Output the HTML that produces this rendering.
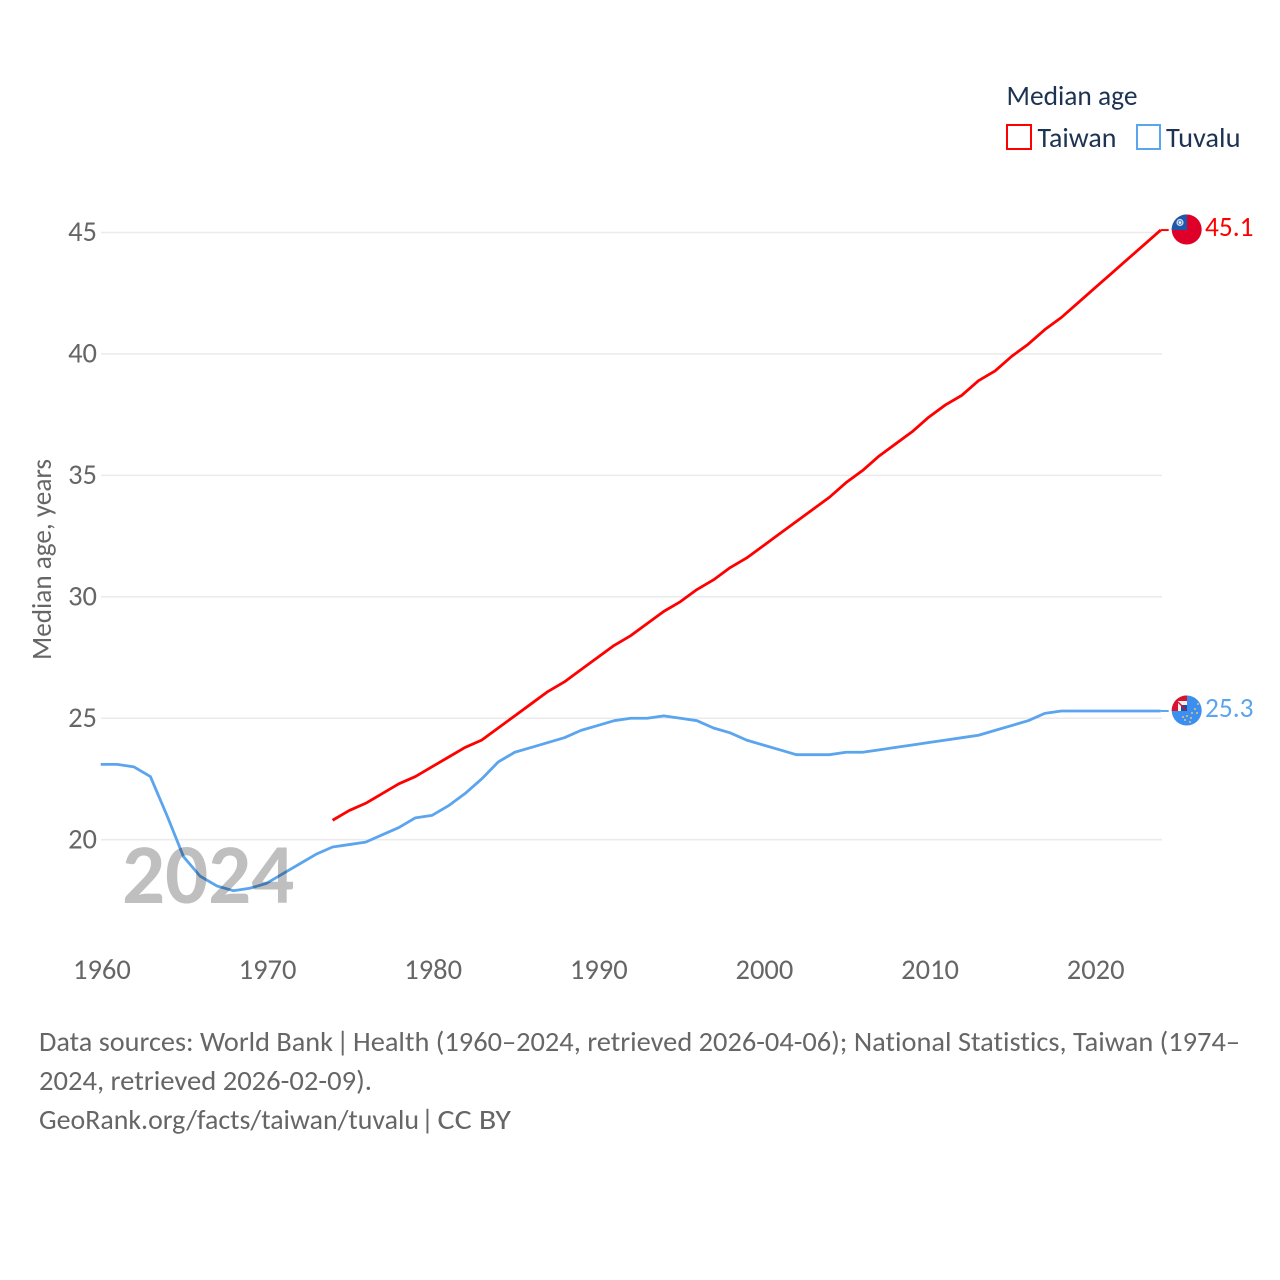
<!DOCTYPE html>
<html lang="en">
<head>
<meta charset="utf-8">
<title>Median age: Taiwan and Tuvalu</title>
<style>
html,body{margin:0;padding:0;background:#fff;width:1280px;height:1280px;overflow:hidden}
svg{display:block}
text{font-family:Carlito,Lato,"Liberation Sans",sans-serif;font-variant-ligatures:none}
</style>
</head>
<body>
<svg id="chart" xmlns="http://www.w3.org/2000/svg" width="1280" height="1280" viewBox="0 0 1280 1280">
  <defs>
    <clipPath id="clip-tw"><circle cx="1186.7" cy="229.5" r="15"/></clipPath>
    <clipPath id="clip-tv"><circle cx="1186.7" cy="710.5" r="15"/></clipPath>
  </defs>
  <g id="grid"></g>
  <g id="yticks"></g>
  <g id="xticks"></g>
  <text transform="translate(51,660) rotate(-90)" font-size="28" fill="#666" textLength="201" lengthAdjust="spacingAndGlyphs">Median age, years</text>

  <g id="series"></g>
  <text x="122" y="903" font-size="85" font-weight="700" fill="#000" fill-opacity="0.25">2024</text>

  <g clip-path="url(#clip-tw)">
    <rect x="1170" y="213" width="34" height="34" fill="#de0029"/>
    <rect x="1170" y="213" width="17" height="17" fill="#1c58ab"/>
    <circle cx="1180" cy="222.5" r="3.6" fill="#c9d8ee"/>
    <circle cx="1180" cy="222.5" r="2.2" fill="#3f74bb"/>
    <circle cx="1180" cy="222.5" r="1.3" fill="#fff"/>
  </g>
  <g clip-path="url(#clip-tv)">
    <rect x="1170" y="694" width="34" height="34" fill="#3a8ff0"/>
    <rect x="1170" y="694" width="17" height="17" fill="#d9122f"/>
    <rect x="1178" y="701" width="9" height="10" fill="#f4f0f0"/>
    <rect x="1181" y="705" width="6" height="6" fill="#1f4e9e"/>
    <path d="M1178 702 L1186 710" stroke="#d9122f" stroke-width="1.3" fill="none"/>
    <g fill="#e8c27a">
      <circle cx="1198" cy="704" r="1"/>
      <circle cx="1195" cy="709" r="1"/>
      <circle cx="1197" cy="713" r="1"/>
      <circle cx="1192" cy="713" r="1"/>
      <circle cx="1191" cy="718" r="1"/>
      <circle cx="1187" cy="716" r="1"/>
      <circle cx="1185" cy="720" r="1"/>
      <circle cx="1190" cy="722" r="1"/>
      <circle cx="1183" cy="717" r="1"/>
    </g>
  </g>

  <g id="endlabels"></g>

  <g>
    <text x="1006.5" y="105" font-size="28" fill="#1d3352" textLength="131" lengthAdjust="spacingAndGlyphs">Median age</text>
    <g>
      <rect x="1007" y="125" width="24" height="24" fill="#fff" stroke="#ff0000" stroke-width="2"/>
      <text x="1037.5" y="147" font-size="28" fill="#1d3352" textLength="79" lengthAdjust="spacingAndGlyphs">Taiwan</text>
    </g>
    <g>
      <rect x="1137" y="125" width="23" height="24" fill="#fff" stroke="#5ba4ee" stroke-width="2"/>
      <text x="1166" y="147" font-size="28" fill="#1d3352" textLength="74.5" lengthAdjust="spacingAndGlyphs">Tuvalu</text>
    </g>
  </g>

  <g font-size="28" fill="#666">
    <text x="39" y="1051" textLength="294" lengthAdjust="spacingAndGlyphs">Data sources: World Bank</text>
    <text x="342.7" y="1051" text-anchor="middle">|</text>
    <text x="353" y="1051" textLength="887" lengthAdjust="spacingAndGlyphs">Health (1960–2024, retrieved 2026-04-06); National Statistics, Taiwan (1974–</text>
    <text x="39" y="1090" textLength="333" lengthAdjust="spacingAndGlyphs">2024, retrieved 2026-02-09).</text>
    <text x="39" y="1129" textLength="380" lengthAdjust="spacingAndGlyphs">GeoRank.org/facts/taiwan/tuvalu</text>
    <text x="427.5" y="1129" text-anchor="middle">|</text>
    <text x="437.5" y="1129" textLength="73.5" lengthAdjust="spacingAndGlyphs">CC BY</text>
  </g>
</svg>
<script>
const xTickYears = [1960, 1970, 1980, 1990, 2000, 2010, 2020];
const yTickValues = [20, 25, 30, 35, 40, 45];
const taiwanStartYear = 1974;
const taiwanValues = [20.8,21.2,21.5,21.9,22.3,22.6,23.0,23.4,23.8,24.1,24.6,25.1,25.6,26.1,26.5,27.0,27.5,28.0,28.4,28.9,29.4,29.8,30.3,30.7,31.2,31.6,32.1,32.6,33.1,33.6,34.1,34.7,35.2,35.8,36.3,36.8,37.4,37.9,38.3,38.9,39.3,39.9,40.4,41.0,41.5,42.1,42.7,43.3,43.9,44.5,45.1];
const tuvaluStartYear = 1960;
const tuvaluValues = [23.1,23.1,23.0,22.6,21.0,19.3,18.5,18.1,17.9,18.0,18.2,18.6,19.0,19.4,19.7,19.8,19.9,20.2,20.5,20.9,21.0,21.4,21.9,22.5,23.2,23.6,23.8,24.0,24.2,24.5,24.7,24.9,25.0,25.0,25.1,25.0,24.9,24.6,24.4,24.1,23.9,23.7,23.5,23.5,23.5,23.6,23.6,23.7,23.8,23.9,24.0,24.1,24.2,24.3,24.5,24.7,24.9,25.2,25.3,25.3,25.3,25.3,25.3,25.3,25.3];

const NS = 'http://www.w3.org/2000/svg';
function xScale(year) { return 100.7 + (year - 1960) * (1160.7 - 100.7) / 64; }
function yScale(v) { return 839.7 - (v - 20) * (839.7 - 232.5) / 25; }
function make(tag, attrs, parent) {
  const el = document.createElementNS(NS, tag);
  for (const k in attrs) el.setAttribute(k, attrs[k]);
  parent.appendChild(el);
  return el;
}

const gridG = document.getElementById('grid');
const yG = document.getElementById('yticks');
const xG = document.getElementById('xticks');
const seriesG = document.getElementById('series');
const endG = document.getElementById('endlabels');

yTickValues.forEach(function (v) {
  const ln = make('line', {x1: 101, x2: 1162, y1: yScale(v), y2: yScale(v), stroke: '#ebebeb', 'stroke-width': 1.6}, gridG);
  
  
  const t = make('text', {x: 97, y: yScale(v) + 8.7, 'text-anchor': 'end', 'font-size': 28.5, fill: '#666'}, yG);
  
  
  t.textContent = String(v);
});

xTickYears.forEach(function (y) {
  const t = make('text', {x: xScale(y) + 1.2, y: 979, 'text-anchor': 'middle', 'font-size': 28.5, fill: '#666'}, xG);
  
  
  t.textContent = String(y);
});

function linePoints(start, values) {
  return values.map(function (v, i) { return xScale(start + i).toFixed(2) + ',' + yScale(v).toFixed(2); });
}

function drawSeries(name, start, values, color, labelOffset) {
  const pts = linePoints(start, values);
  const last = values[values.length - 1];
  const yEnd = yScale(last);
  const main = make('polyline', {points: pts.join(' '), fill: 'none', stroke: color, 'stroke-width': 2.8, 'stroke-linejoin': 'round'}, seriesG);
  
  
  const conn = make('line', {x1: xScale(2024), x2: xScale(2024) + 8, y1: yEnd, y2: yEnd, stroke: color, 'stroke-width': 2}, seriesG);
  
  
  const lab = make('text', {x: 1205, y: yEnd + labelOffset, 'font-size': 28, fill: color, textLength: 48.5, lengthAdjust: 'spacingAndGlyphs'}, endG);
  
  
  lab.textContent = last.toFixed(1);
}

drawSeries('tuvalu', tuvaluStartYear, tuvaluValues, '#5ba4ee', 6);
drawSeries('taiwan', taiwanStartYear, taiwanValues, '#ff0000', 6);
</script>
</body>
</html>
